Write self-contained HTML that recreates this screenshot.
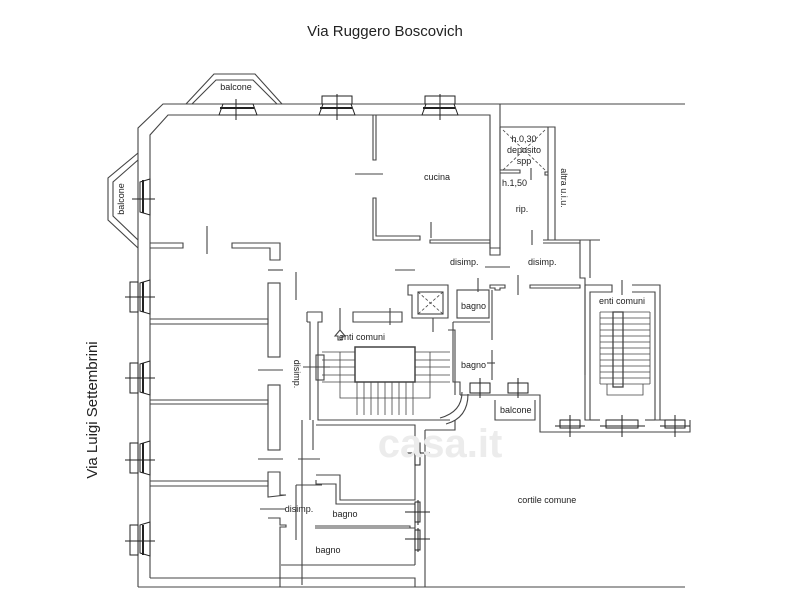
<!DOCTYPE html>
<html><head><meta charset="utf-8"><style>
html,body{margin:0;padding:0;background:#fff}
svg{display:block}
text{font-family:"Liberation Sans",sans-serif;fill:#222}
</style></head><body>
<svg width="790" height="600" viewBox="0 0 790 600" xmlns="http://www.w3.org/2000/svg">
<rect width="790" height="600" fill="#fff"/>
<text x="385" y="36" font-size="15" text-anchor="middle">Via Ruggero Boscovich</text>
<text transform="translate(97,410) rotate(-90)" font-size="15" text-anchor="middle">Via Luigi Settembrini</text>
<g fill="none" stroke="#444" stroke-width="1.1">
<path d="M138,587 L138,128 L163,104 L500,104 L500,248 L490,248 L490,115 L168,115 L150,135 L150,578"/>
<line x1="500" y1="104" x2="685" y2="104"/>
<path d="M186,104 L214,74 L255,74 L282,104 M192,104 L216,80 L253,80 L277,104"/>
<text x="236" y="90" font-size="9" stroke="none" text-anchor="middle">balcone</text>
<path d="M138,153 L108,178 L108,220 L138,248 M138,160 L113,182 L113,216 L138,240"/>
<text transform="translate(124,199) rotate(-90)" font-size="9" stroke="none" text-anchor="middle">balcone</text>
<line x1="138" y1="587" x2="425" y2="587"/>
<line x1="150" y1="578" x2="278" y2="578"/>
<path d="M280,587 L280,578 L415,578 L415,587"/>
<line x1="425" y1="430" x2="425" y2="587"/>
<line x1="425" y1="587" x2="685" y2="587"/>
<path d="M150,243 L183,243 L183,248 L150,248"/>
<path d="M232,243 L280,243 L280,260 L270,260 L270,248 L232,248 Z"/>
<line x1="207" y1="226" x2="207" y2="254"/>
<line x1="268" y1="270" x2="283" y2="270"/>
<path d="M150,319 L268,319 L268,324 L150,324"/>
<path d="M150,400 L268,400 L268,404 L150,404"/>
<path d="M150,481 L268,481 L268,486 L150,486"/>
<rect x="268" y="283" width="12" height="74"/>
<rect x="268" y="385" width="12" height="65"/>
<path d="M268,472 L280,472 L280,495 L286,495 L268,497 Z"/>
<path d="M268,518 L280,518 L280,525 L286,525 L286,527 L280,527 L280,578 L268,578"/>
<line x1="258" y1="370" x2="283" y2="370"/>
<line x1="258" y1="459" x2="283" y2="459"/>
<line x1="298" y1="459" x2="320" y2="459"/>
<line x1="260" y1="509" x2="285" y2="509"/>
<line x1="296" y1="485" x2="296" y2="540"/>
<line x1="296" y1="485" x2="322" y2="485"/>
<line x1="296" y1="272" x2="296" y2="300"/>
<line x1="313" y1="420" x2="313" y2="450"/>
<path d="M373,115 L373,160 L376,160 L376,115"/>
<path d="M373,198 L376,198 L376,236 L420,236 L420,240 L373,240 Z"/>
<line x1="355" y1="174" x2="383" y2="174"/>
<path d="M430,240 L490,240 L490,248 L500,248 L500,255 L490,255 L490,243 L430,243 Z"/>
<line x1="431" y1="222" x2="431" y2="238"/>
<line x1="395" y1="270" x2="415" y2="270"/>
<path d="M500,127 L548,127 L548,175 L545,175 L545,172 L548,172 M500,127 L500,170 L520,170 L520,173 L500,173"/>
<path d="M503,130 L545,170 M545,130 L503,170" stroke-dasharray="3,2" stroke-width="0.8"/>
<line x1="531" y1="168" x2="531" y2="180"/>
<path d="M548,127 L555,127 L555,240 L548,240 L548,175"/>
<text x="524" y="142" font-size="9" stroke="none" text-anchor="middle">h.0,30</text>
<text x="524" y="153" font-size="9" stroke="none" text-anchor="middle">deposito</text>
<text x="524" y="164" font-size="9" stroke="none" text-anchor="middle">spp</text>
<text x="502" y="186" font-size="9" stroke="none">h.1,50</text>
<text x="522" y="212" font-size="9" stroke="none" text-anchor="middle">rip.</text>
<text transform="translate(561,188) rotate(90)" font-size="9" stroke="none" text-anchor="middle">altra u.i.u.</text>
<line x1="532" y1="230" x2="532" y2="245"/>
<path d="M543,240 L600,240 M580,240 L580,243 L543,243"/>
<path d="M580,243 L580,278 L585,278 L585,375 M590,240 L590,278"/>
<line x1="485" y1="267" x2="510" y2="267"/>
<path d="M530,285 L580,285 L580,288 L530,288 Z"/>
<line x1="518" y1="275" x2="518" y2="295"/>
<line x1="478" y1="278" x2="478" y2="292"/>
<path d="M490,285 L505,285 L505,288 L500,288 L500,290 L495,290 L495,288 L490,288 Z"/>
<path d="M408,285 L448,285 L448,318 L412,318 L412,295 L408,295 Z"/>
<rect x="418" y="292" width="25" height="22"/>
<path d="M418,292 L443,314 M443,292 L418,314" stroke-dasharray="3,2" stroke-width="0.8"/>
<line x1="433" y1="318" x2="433" y2="332"/>
<rect x="457" y="290" width="32" height="28"/>
<line x1="492" y1="290" x2="492" y2="340"/>
<line x1="492" y1="350" x2="492" y2="380"/>
<path d="M453,322 L490,322 M453,322 L453,382 L460,382 L460,395"/>
<line x1="487" y1="363" x2="495" y2="363"/>
<text x="461" y="309" font-size="9" stroke="none">bagno</text>
<text x="461" y="368" font-size="9" stroke="none">bagno</text>
<path d="M307,312 L322,312 L322,322 L318,322 L318,420 L450,420"/>
<path d="M307,322 L307,312 M307,322 L310,322 L310,420"/>
<path d="M353,312 L402,312 L402,322 L353,322 Z"/>
<line x1="390" y1="308" x2="390" y2="325"/>
<line x1="340" y1="308" x2="340" y2="330"/>
<path d="M335,336 L340,330 L345,336 L342,336 L342,340 L338,340 L338,336 Z"/>
<text x="362" y="340" font-size="9" stroke="none" text-anchor="middle">enti comuni</text>
<rect x="355" y="347" width="60" height="35" stroke-width="1.5"/>
<g stroke-width="0.8">
<path d="M322,352 H355 M322,360 H355 M322,367 H355 M322,375 H355 M322,382 H355"/>
<path d="M415,352 H450 M415,360 H450 M415,367 H450 M415,375 H450 M415,382 H450"/>
<path d="M357,382 V415 M364,382 V415 M371,382 V415 M378,382 V415 M385,382 V415 M392,382 V415 M399,382 V415 M406,382 V415 M413,382 V415"/>
<path d="M340,352 V398 H430 V352"/>
</g>
<rect x="316" y="355" width="8" height="25"/>
<line x1="303" y1="367" x2="330" y2="367"/>
<path d="M448,330 L455,330 L455,395 M440,418 Q462,412 462,392 M446,424 Q468,418 468,394"/>
<path d="M316,425 L415,425 L415,500 L340,500 L340,475 L316,475"/>
<path d="M316,480 L316,484 L336,484 L336,504 L415,504"/>
<path d="M315,526 L410,526 L410,528 M315,528 L415,528"/>
<path d="M302,420 L302,585 M284,527 L286,527"/>
<path d="M281,565 L415,565 M415,504 V565"/>
<text x="345" y="517" font-size="9" stroke="none" text-anchor="middle">bagno</text>
<text x="328" y="553" font-size="9" stroke="none" text-anchor="middle">bagno</text>
<text x="299" y="512" font-size="9" stroke="none" text-anchor="middle">disimp.</text>
<text transform="translate(294,374) rotate(90)" font-size="9" stroke="none" text-anchor="middle">disimp.</text>
<text x="547" y="503" font-size="9" stroke="none" text-anchor="middle">cortile comune</text>
<path d="M460,395 L540,395 L540,432 L690,432 L690,420"/>
<path d="M495,400 L495,420 L535,420 L535,400"/>
<text x="500" y="413" font-size="9" stroke="none">balcone</text>
<path d="M455,420 L455,430 L425,430"/>
<path d="M585,285 L612,285 L612,292 L590,292 L590,420 L585,420 Z"/>
<path d="M632,285 L660,285 L660,420 L655,420 L655,292 L632,292"/>
<line x1="622" y1="280" x2="622" y2="295"/>
<line x1="590" y1="420" x2="600" y2="420"/>
<line x1="645" y1="420" x2="655" y2="420"/>
<text x="622" y="304" font-size="9" stroke="none" text-anchor="middle">enti comuni</text>
<rect x="613" y="312" width="10" height="75" stroke-width="1.3"/>
<path d="M600,312 H650 M600,318 H650 M600,324 H650 M600,330 H650 M600,336 H650 M600,342 H650 M600,348 H650 M600,354 H650 M600,360 H650 M600,366 H650 M600,372 H650 M600,378 H650 M600,384 H650 M600,312 V384 M650,312 V384 M607,384 V395 H643 V384" stroke-width="0.8"/>
<path d="M660,420 L685,420"/>
</g>
<g stroke="#222" stroke-width="1" fill="#fff">
<path d="M219,115 L223,104 L253,104 L257,115 Z"/><line x1="236" y1="99" x2="236" y2="120"/><line x1="220" y1="108" x2="254" y2="108" stroke-width="2"/>
<rect x="322" y="96" width="30" height="8"/><path d="M319,115 L323,104 L351,104 L355,115 Z"/><line x1="337" y1="94" x2="337" y2="120"/><line x1="320" y1="108" x2="352" y2="108" stroke-width="2"/>
<rect x="425" y="96" width="30" height="8"/><path d="M422,115 L426,104 L454,104 L458,115 Z"/><line x1="440" y1="94" x2="440" y2="120"/><line x1="423" y1="108" x2="455" y2="108" stroke-width="2"/>
<path d="M150,179 L140,182 L140,212 L150,215 Z"/><line x1="132" y1="199" x2="155" y2="199"/><line x1="143" y1="180" x2="143" y2="213" stroke-width="2"/>
<rect x="130" y="282" width="8" height="30"/><path d="M150,280 L140,283 L140,311 L150,314 Z"/><line x1="125" y1="297" x2="155" y2="297"/><line x1="143" y1="282" x2="143" y2="312" stroke-width="2"/>
<rect x="130" y="363" width="8" height="30"/><path d="M150,361 L140,364 L140,392 L150,395 Z"/><line x1="125" y1="378" x2="155" y2="378"/><line x1="143" y1="363" x2="143" y2="393" stroke-width="2"/>
<rect x="130" y="443" width="8" height="30"/><path d="M150,441 L140,444 L140,472 L150,475 Z"/><line x1="125" y1="460" x2="155" y2="460"/><line x1="143" y1="443" x2="143" y2="473" stroke-width="2"/>
<rect x="130" y="525" width="8" height="30"/><path d="M150,522 L140,525 L140,553 L150,556 Z"/><line x1="125" y1="541" x2="155" y2="541"/><line x1="143" y1="525" x2="143" y2="555" stroke-width="2"/>
<rect x="415" y="443" width="5" height="22"/><line x1="405" y1="453" x2="430" y2="453"/>
<rect x="415" y="502" width="5" height="20"/><line x1="405" y1="512" x2="430" y2="512"/><line x1="418" y1="500" x2="418" y2="525"/>
<rect x="415" y="530" width="5" height="20"/><line x1="405" y1="539" x2="430" y2="539"/><line x1="418" y1="528" x2="418" y2="552"/>
<rect x="560" y="420" width="20" height="8"/><line x1="570" y1="415" x2="570" y2="437"/><line x1="555" y1="426" x2="585" y2="426"/>
<rect x="606" y="420" width="32" height="8"/><line x1="622" y1="415" x2="622" y2="437"/><line x1="600" y1="426" x2="645" y2="426"/>
<rect x="665" y="420" width="20" height="8"/><line x1="675" y1="415" x2="675" y2="437"/><line x1="660" y1="426" x2="690" y2="426"/>
<rect x="470" y="383" width="20" height="10"/><line x1="480" y1="378" x2="480" y2="398"/>
<rect x="508" y="383" width="20" height="10"/><line x1="518" y1="378" x2="518" y2="398"/>
</g>
<text x="440" y="457" font-size="40" font-weight="bold" style="fill:#ececec" text-anchor="middle">casa.it</text>
<text x="450" y="265" font-size="9">disimp.</text>
<text x="528" y="265" font-size="9">disimp.</text>
<text x="437" y="180" font-size="9" text-anchor="middle">cucina</text>
</svg>
</body></html>
